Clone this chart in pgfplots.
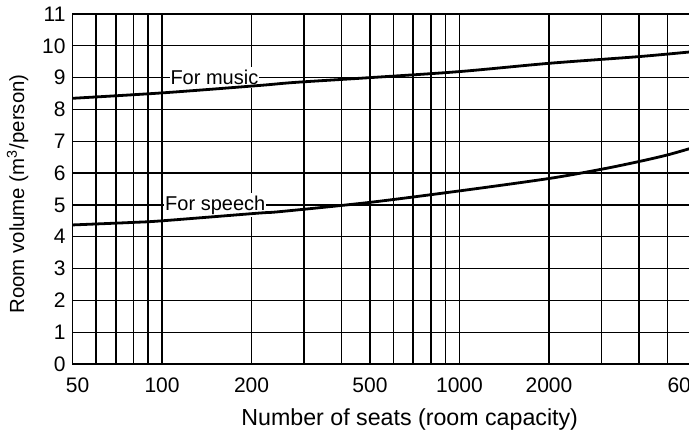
\documentclass[border=0pt]{standalone}
\usepackage{pgfplots}
\pgfplotsset{compat=1.18}
\usepackage{fontspec}
\setmainfont{Liberation Sans}
\begin{document}
\begin{tikzpicture}
\begin{axis}[
  scale only axis, width=309.2pt, height=175pt,
  xmode=log, xmin=50, xmax=6000, ymin=0, ymax=11,
  xtick={50,100,200,500,1000,2000,6000},
  xticklabels={\hspace*{5pt}50,100,200,500,1000,2000,6000},
  minor xtick={60,70,80,300,400,600,900,3000,5000},
  extra x ticks={90,500,700,800,2000,4000},
  extra x tick labels={},
  extra x tick style={grid=major, major grid style={black, line width=0.95pt}},
  ytick={0,...,11},
  grid=both,
  major grid style={black, line width=0.6pt},
  minor grid style={black, line width=0.6pt},
  tick style={draw=none},
  axis line style={line width=0.9pt},
  tick label style={font=\fontsize{10.5}{12}\selectfont, /pgf/number format/assume math mode=true},
  xticklabel style={yshift=-3.5pt},
  xlabel style={font=\fontsize{11.6}{13}\selectfont, yshift=-1pt, xshift=14pt},
  ylabel style={font=\fontsize{10.2}{12}\selectfont, xshift=-2.5pt},
  xlabel={Number of seats (room capacity)},
  ylabel={Room volume (m\textsuperscript{3}/person)},
]
\node[fill=white, inner xsep=0.5pt, inner ysep=1.5pt, font=\fontsize{10}{12}\selectfont] at (axis cs:150,9) {For music};
\node[fill=white, inner xsep=0.5pt, inner ysep=1.5pt, font=\fontsize{10}{12}\selectfont] at (axis cs:151,5) {For speech};
\addplot[black, line width=1.4pt, smooth] coordinates {
(50,8.35) (100,8.52) (210,8.75) (280,8.85) (500,9.0) (1000,9.19) (2000,9.45) (4000,9.66) (6000,9.81)};
\addplot[black, line width=1.4pt, smooth] coordinates {
(50,4.37) (80,4.45) (100,4.50) (210,4.74) (250,4.79) (500,5.08) (1000,5.44) (2000,5.83) (3000,6.12) (4000,6.36) (5000,6.57) (6000,6.78)};
\end{axis}
\pgfresetboundingbox
\useasboundingbox ([shift={(-36.25pt,-36.5pt)}]current axis.south west) rectangle ([shift={(308.25pt,7pt)}]current axis.north west);
\end{tikzpicture}
\end{document}
